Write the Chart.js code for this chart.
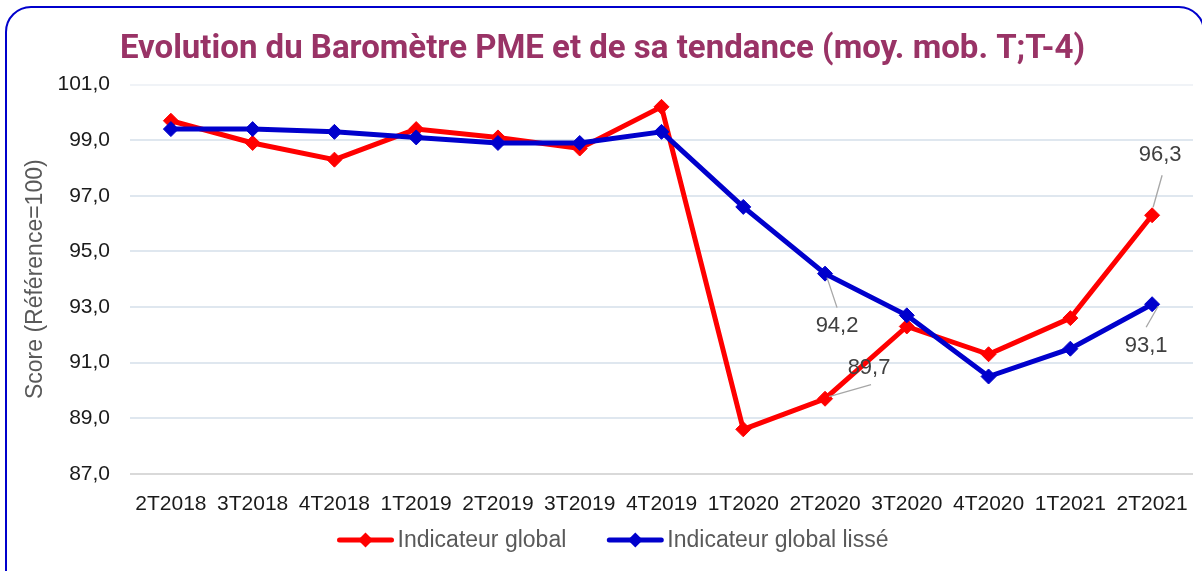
<!DOCTYPE html>
<html>
<head>
<meta charset="utf-8">
<script src="https://cdn.jsdelivr.net/npm/chart.js@4"></script>
<style>
  html, body { margin: 0; padding: 0; background: #fff; overflow: hidden; }
  #wrap { position: relative; width: 1202px; height: 571px; }
  #frame {
    position: absolute; left: 5px; top: 6px; width: 1200px; height: 600px;
    border: 2.5px solid #0000cc; border-radius: 26px; box-sizing: border-box;
    pointer-events: none;
  }
</style>
</head>
<body>
<div id="wrap">
  <canvas id="myChart"></canvas>
  <div id="frame"></div>
</div>
<script>
// Trimestres
var categories = ['2T2018', '3T2018', '4T2018', '1T2019', '2T2019', '3T2019', '4T2019',
                  '1T2020', '2T2020', '3T2020', '4T2020', '1T2021', '2T2021'];

// Séries
var indicateurGlobal = [99.7, 98.9, 98.3, 99.4, 99.1, 98.7, 100.2, 88.6, 89.7, 92.3, 91.3, 92.6, 96.3];
var indicateurLisse = [99.4, 99.4, 99.3, 99.1, 98.9, 98.9, 99.3, 96.6, 94.2, 92.7, 90.5, 91.5, 93.1];

// Graduations de l'axe Y
var yTicks = [87, 89, 91, 93, 95, 97, 99, 101];

var fmt = function(v) { return v.toFixed(1).replace('.', ','); };
var FONT = "'Liberation Sans', Arial, sans-serif";

// Etiquettes de données affichées (dataset, index, décalages du texte et du trait)
var shownLabels = [
    { ds: 0, i: 12, dx: 8, dy: -60, l1: [1, -8], l2: [10, -40] },
    { ds: 1, i: 8, dx: 12, dy: 52, l1: [2, 4], l2: [12, 34] },
    { ds: 0, i: 8, dx: 44, dy: -31, l1: [4, -2], l2: [46, -14] },
    { ds: 1, i: 12, dx: -6, dy: 42, l1: [6, 2], l2: [-6, 23] }
];

var dataLabelsPlugin = {
    id: 'dataLabels',
    afterDatasetsDraw: function(chart) {
        var ctx = chart.ctx;
        ctx.save();
        shownLabels.forEach(function(lab) {
            var pt = chart.getDatasetMeta(lab.ds).data[lab.i];
            var v = chart.data.datasets[lab.ds].data[lab.i];
            ctx.strokeStyle = '#a6a6a6';
            ctx.lineWidth = 1.3;
            ctx.beginPath();
            ctx.moveTo(pt.x + lab.l1[0], pt.y + lab.l1[1]);
            ctx.lineTo(pt.x + lab.l2[0], pt.y + lab.l2[1]);
            ctx.stroke();
            ctx.fillStyle = '#404040';
            ctx.font = '22px ' + FONT;
            ctx.textAlign = 'center';
            ctx.textBaseline = 'middle';
            ctx.fillText(fmt(v), pt.x + lab.dx, pt.y + lab.dy);
        });
        ctx.restore();
    }
};

// Légende : trait + losange, centrée en bas
var legendPlugin = {
    id: 'lineLegend',
    afterDraw: function(chart) {
        var ctx = chart.ctx;
        var ds = chart.data.datasets;
        var lineW = 56, gapText = 4, gapItem = 41, y = 540;
        ctx.save();
        ctx.font = '23px ' + FONT;
        var widths = ds.map(function(d) { return lineW + gapText + ctx.measureText(d.label).width; });
        var total = widths.reduce(function(a, b) { return a + b; }, 0) + gapItem * (ds.length - 1);
        var x = (chart.width - total) / 2 + 12;
        ds.forEach(function(d, k) {
            ctx.strokeStyle = d.borderColor;
            ctx.lineWidth = 5;
            ctx.lineCap = 'round';
            ctx.beginPath();
            ctx.moveTo(x + 2, y);
            ctx.lineTo(x + lineW - 2, y);
            ctx.stroke();
            var cx = x + lineW / 2, r = 7.5;
            ctx.fillStyle = d.borderColor;
            ctx.beginPath();
            ctx.moveTo(cx, y - r); ctx.lineTo(cx + r, y); ctx.lineTo(cx, y + r); ctx.lineTo(cx - r, y);
            ctx.closePath();
            ctx.fill();
            ctx.fillStyle = '#595959';
            ctx.textAlign = 'left';
            ctx.textBaseline = 'middle';
            ctx.fillText(d.label, x + lineW + gapText, y + 1);
            x += widths[k] + gapItem;
        });
        ctx.restore();
    }
};

document.addEventListener('DOMContentLoaded', function() {
    var ctx = document.getElementById('myChart').getContext('2d');

    var data = {
        labels: categories,
        datasets: [{
            label: 'Indicateur global',
            data: indicateurGlobal,
            borderColor: '#ff0000',
            backgroundColor: '#ff0000',
            borderWidth: 5,
            pointStyle: 'rectRot',
            pointRadius: 7.5,
            pointBorderWidth: 1,
            tension: 0,
            order: 1
        }, {
            label: 'Indicateur global lissé',
            data: indicateurLisse,
            borderColor: '#0000cc',
            backgroundColor: '#0000cc',
            borderWidth: 5,
            pointStyle: 'rectRot',
            pointRadius: 7.5,
            pointBorderWidth: 1,
            tension: 0,
            order: 0
        }]
    };

    var options = {
        responsive: true,
        maintainAspectRatio: false,
        animation: false,
        layout: { padding: { left: 12, right: 9, top: 24, bottom: 44 } },
        plugins: {
            legend: { display: false },
            tooltip: { enabled: false },
            title: {
                display: true,
                text: 'Evolution du Baromètre PME et de sa tendance (moy. mob. T;T-4)',
                color: '#993366',
                font: { family: 'Roboto', size: 33, weight: 'bold' },
                padding: { top: 6, bottom: 15 }
            }
        },
        scales: {
            x: {
                offset: true,
                grid: { display: false },
                border: { display: false },
                ticks: { color: '#1a1a1a', font: { family: FONT, size: 21 }, padding: 10, maxRotation: 0, autoSkip: false }
            },
            y: {
                min: yTicks[0],
                max: yTicks[yTicks.length - 1],
                afterBuildTicks: function(scale) {
                    scale.ticks = yTicks.map(function(v) { return { value: v }; });
                },
                afterFit: function(scale) { scale.width = 118; },
                border: { display: false },
                grid: {
                    drawTicks: false,
                    lineWidth: 2,
                    color: function(c) {
                        if (c.tick && c.tick.value === yTicks[0]) return '#d9d9d9';
                        if (c.tick && c.tick.value === yTicks[yTicks.length - 1]) return '#f0f3f7';
                        return '#dfe7ef';
                    }
                },
                ticks: {
                    color: '#1a1a1a',
                    font: { family: FONT, size: 21 },
                    padding: 20,
                    callback: function(v) { return fmt(v); }
                },
                title: {
                    display: true,
                    text: 'Score (Référence=100)',
                    color: '#595959',
                    font: { family: FONT, size: 23 },
                    padding: { top: 10, bottom: 0 }
                }
            }
        }
    };

    var myChart = new Chart(ctx, {
        type: 'line',
        data: data,
        options: options,
        plugins: [dataLabelsPlugin, legendPlugin]
    });
});
</script>
</body>
</html>
